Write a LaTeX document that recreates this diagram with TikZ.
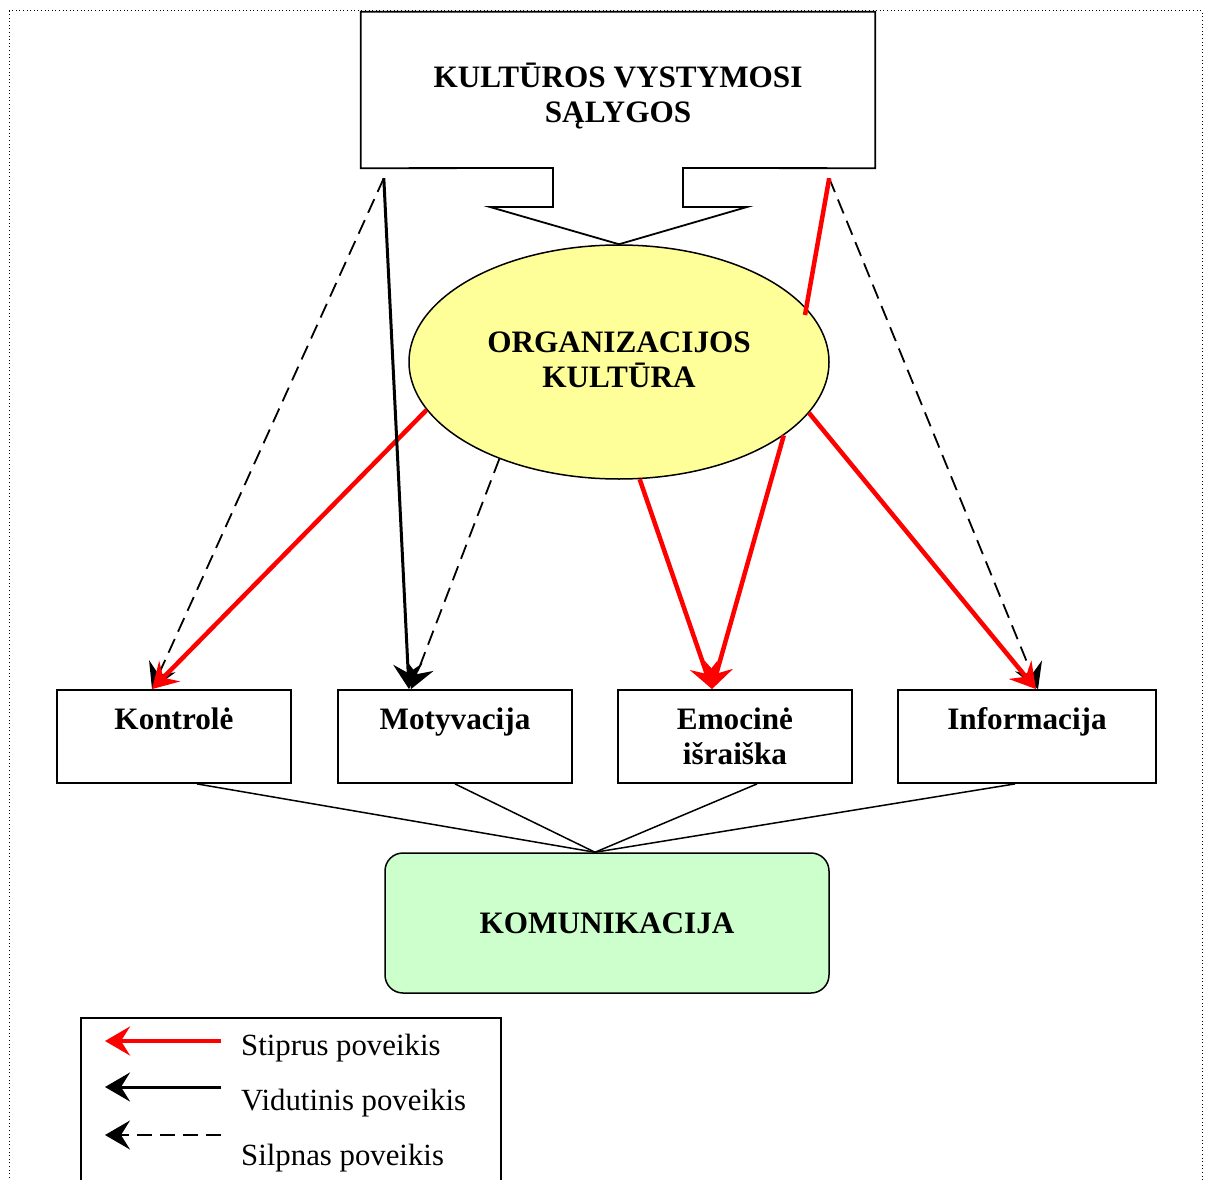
\documentclass[tikz,border=0pt]{standalone}
\usepackage{fontspec}
\setmainfont{Liberation Serif}
\usetikzlibrary{arrows.meta,shapes.geometric,calc}
\definecolor{ovalfill}{RGB}{255,255,153}
\definecolor{commfill}{RGB}{204,255,204}
\definecolor{strongred}{RGB}{255,0,0}

\begin{document}
\begin{tikzpicture}[x=1pt,y=-1pt,
  txt/.style={font=\fontsize{31.2}{35.5}\selectfont\bfseries, align=center},
  plaintxt/.style={font=\fontsize{30.8}{35.5}\selectfont, anchor=base west, inner sep=0pt},
  boxline/.style={draw=black, line width=1.8pt},
  box/.style={boxline, txt, rectangle, minimum height=93pt, inner sep=0pt},
  tip/.style={-{Stealth[length=25pt,width=29pt,inset=9pt]}},
  strong/.style={tip, draw=strongred, line width=4.5pt},
  medium/.style={tip, draw=black, line width=3pt},
  weak/.style={tip, draw=black, line width=1.8pt, dash pattern=on 15pt off 8pt},
  joinline/.style={draw=black, line width=1.5pt}
]
\useasboundingbox (0,0) rectangle (1210,1180);

% dotted frame, open at the foot of the page
\draw[line width=1pt, dash pattern=on 1pt off 2.6pt] (9,1185) -- (9,11) -- (1202,11) -- (1202,1185);

% main blocks
\node[minimum width=514pt, minimum height=156pt, inner sep=0pt] (kvs) at (618,90) {};
\node[txt, inner sep=0pt] (kvs-t) at (618,96) {KULTŪROS VYSTYMOSI\\SĄLYGOS};
\node[ellipse, draw=black, line width=1.5pt, fill=ovalfill, minimum width=420pt, minimum height=234pt, inner sep=0pt] (oc) at (619,362) {};
\node[txt, inner sep=0pt] (oc-t) at (619,360) {ORGANIZACIJOS\\KULTŪRA};

% callout outline of the upper block, its pointer resting on the oval
\draw[boxline, line join=miter]
  (553,168) -- (kvs.south west) -- (kvs.north west) -- (kvs.north east) -- (kvs.south east)
  -- (683,168) -- (683,207) -- (747,207) -- (oc.north) -- (490,207) -- (553,207) -- cycle;

\node[box, minimum width=234pt] (ko) at (174,736.5) {Kontrolė\\\mbox{}};
\node[box, minimum width=234pt] (mo) at (455,736.5) {Motyvacija\\\mbox{}};
\node[box, minimum width=234pt] (em) at (735,736.5) {Emocinė\\išraiška};
\node[box, minimum width=258pt] (inf) at (1027,736.5) {Informacija\\\mbox{}};

\node[draw=black, line width=1.5pt, fill=commfill, rounded corners=18pt, minimum width=444pt, minimum height=140pt, txt] (kom) at (607,923) {KOMUNIKACIJA};

% joins into the communication block
\coordinate (kom-in) at ($(kom.north)+(-12,0)$);
\draw[joinline] ($(ko.south)+(23,0)$) -- (kom-in);
\draw[joinline] (mo.south) -- (kom-in);
\draw[joinline] ($(em.south)+(22,0)$) -- (kom-in);
\draw[joinline] ($(inf.south)+(-12,0)$) -- (kom-in);

% start and end points of the influence arrows
\coordinate (kvs-l) at ($(kvs.south west)+(23,10)$);
\coordinate (kvs-r) at ($(kvs.south east)+(-46,10)$);
\coordinate (oc-r) at ($(oc.center)+(186,-47)$);
\coordinate (ko-in) at ($(ko.north)+(-22,0)$);
\coordinate (mo-in) at ($(mo.north)+(-46,0)$);
\coordinate (em-in) at ($(em.north)+(-23,0)$);
\coordinate (inf-in) at ($(inf.north)+(9,0)$);

% weak influence
\draw[weak] (kvs-l) -- (ko-in);
\draw[weak] (oc.219) -- ($(mo-in)+(2,0)$);
\draw[weak] (kvs-r) -- ($(inf-in)+(2,0)$);

% strong influence
\draw[strongred, line width=4.5pt] (kvs-r) -- (oc-r);
\draw[strong] (oc.194.5) -- (ko-in);
\draw[strong] (oc.280.6) -- (em-in);
\draw[strong] (oc.336) -- (em-in);
\draw[strong] (oc.345.6) -- (inf-in);

% medium influence
\draw[medium] (kvs-l) -- (mo-in);

% legend
\draw[boxline] (81,1185) -- (81,1018) -- (501,1018) -- (501,1185);
\coordinate (lg1a) at (221,1041); \coordinate (lg1b) at (105,1041);
\coordinate (lg2a) at (221,1087); \coordinate (lg2b) at (105,1087);
\coordinate (lg3a) at (221,1135); \coordinate (lg3b) at (105,1135);
\draw[strong] (lg1a) -- (lg1b);
\draw[medium] (lg2a) -- (lg2b);
\draw[weak] (lg3a) -- (lg3b);
\node[plaintxt] (lt1) at (241,1055) {Stiprus poveikis};
\node[plaintxt] (lt2) at (241,1110) {Vidutinis poveikis};
\node[plaintxt] (lt3) at (241,1165) {Silpnas poveikis};
\end{tikzpicture}
\end{document}
